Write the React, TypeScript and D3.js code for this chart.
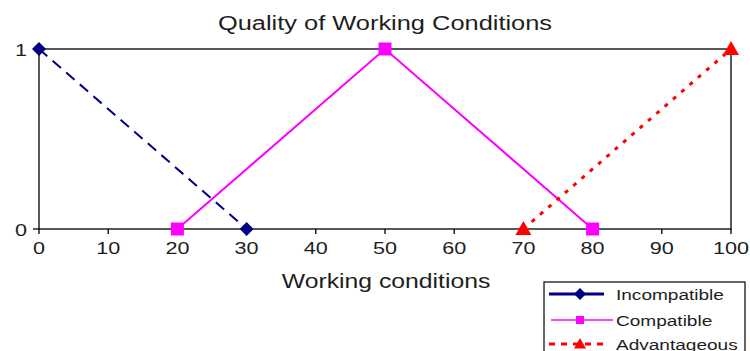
import React from "react";
import * as d3 from "d3";

const xTicks = [0, 10, 20, 30, 40, 50, 60, 70, 80, 90, 100];
const yTicks = [0, 1];

const incompatibleX = [0, 30];
const incompatibleY = [1, 0];
const compatibleX = [20, 50, 80];
const compatibleY = [0, 1, 0];
const advantageousX = [70, 100];
const advantageousY = [0, 1];

const seriesNames = ["Incompatible", "Compatible", "Advantageous"];

const W = 750;
const H = 351;
const plot = { left: 39, right: 731, top: 49, bottom: 229 };
const font = "Arial, 'Liberation Sans', Helvetica, sans-serif";
const stretch = 1.27;

const x = d3.scaleLinear().domain([0, 100]).range([plot.left, plot.right]);
const y = d3.scaleLinear().domain([0, 1]).range([plot.bottom, plot.top]);

const toPts = (xs: number[], ys: number[]) => xs.map((v, i) => [v, ys[i]] as [number, number]);
const line = d3
  .line<[number, number]>()
  .x((d) => x(d[0]))
  .y((d) => y(d[1]));

const diamond = (cx: number, cy: number, r: number) =>
  `M${cx},${cy - r}L${cx + r},${cy}L${cx},${cy + r}L${cx - r},${cy}Z`;
const square = (cx: number, cy: number, r: number) =>
  `M${cx - r},${cy - r}h${2 * r}v${2 * r}h${-2 * r}Z`;
const triangle = (cx: number, cy: number, r: number) =>
  `M${cx},${cy - r}L${cx + r},${cy + r * 0.75}L${cx - r},${cy + r * 0.75}Z`;

const series = [
  { name: seriesNames[0], pts: toPts(incompatibleX, incompatibleY), color: "#000080", dash: "11,7", width: 2, marker: diamond, size: 7 },
  { name: seriesNames[1], pts: toPts(compatibleX, compatibleY), color: "#FF00FF", dash: undefined, width: 2, marker: square, size: 6.5 },
  { name: seriesNames[2], pts: toPts(advantageousX, advantageousY), color: "#FF0000", dash: "4,7", width: 3, marker: triangle, size: 8 },
];

// Text drawn slightly wide, as in the original export
function WideText(props: { x: number; y: number; size: number; anchor?: "start" | "middle" | "end"; children: React.ReactNode }) {
  return (
    <text
      transform={`translate(${props.x},${props.y}) scale(${stretch},1)`}
      textAnchor={props.anchor ?? "start"}
      fontFamily={font}
      fontSize={props.size}
      fill="#1e1e1e"
    >
      {props.children}
    </text>
  );
}

export default function App() {
  return (
    <svg width={W} height={H} style={{ position: "absolute", left: 0, top: 0, background: "#fff" }}>
      <WideText x={385} y={30} size={20} anchor="middle">
        Quality of Working Conditions
      </WideText>
      {/* plot frame */}
      <rect x={plot.left} y={plot.top} width={plot.right - plot.left} height={plot.bottom - plot.top} fill="none" stroke="#000" strokeWidth={1.3} />
      {/* y ticks */}
      {yTicks.map((t) => (
        <g key={"y" + t}>
          <line x1={plot.left - 6} x2={plot.left} y1={y(t)} y2={y(t)} stroke="#000" strokeWidth={1.3} />
          <WideText x={plot.left - 12} y={y(t) + 7} size={17} anchor="end">
            {t}
          </WideText>
        </g>
      ))}
      {/* x ticks */}
      {xTicks.map((t) => (
        <g key={"x" + t}>
          <line x1={x(t)} x2={x(t)} y1={plot.bottom} y2={plot.bottom + 5} stroke="#000" strokeWidth={1.3} />
          <WideText x={x(t)} y={plot.bottom + 25} size={17} anchor="middle">
            {t}
          </WideText>
        </g>
      ))}
      <WideText x={386} y={288} size={19.5} anchor="middle">
        Working conditions
      </WideText>
      {/* series */}
      {series.map((s) => (
        <g key={s.name}>
          <path d={line(s.pts) ?? ""} fill="none" stroke={s.color} strokeWidth={s.width} strokeDasharray={s.dash} />
          {s.pts.map((p, i) => (
            <path key={i} d={s.marker(x(p[0]), y(p[1]), s.size)} fill={s.color} />
          ))}
        </g>
      ))}
      {/* legend */}
      <g>
        <rect x={544} y={282} width={201} height={80} fill="#fff" stroke="#000" strokeWidth={1.2} />
        {series.map((s, i) => {
          const ly = [294, 320, 344][i];
          const x2 = i === 1 ? 613 : 604;
          return (
            <g key={"lg" + s.name}>
              <line x1={i === 1 ? 551 : 549} x2={x2} y1={ly} y2={ly} stroke={s.color} strokeWidth={i === 1 ? 1.5 : 3} strokeDasharray={i === 2 ? "6,6" : undefined} />
              <path d={s.marker(580, ly, i === 1 ? 4 : 6)} fill={s.color} />
              <WideText x={616} y={ly + 5.5} size={15}>
                {s.name}
              </WideText>
            </g>
          );
        })}
      </g>
    </svg>
  );
}
